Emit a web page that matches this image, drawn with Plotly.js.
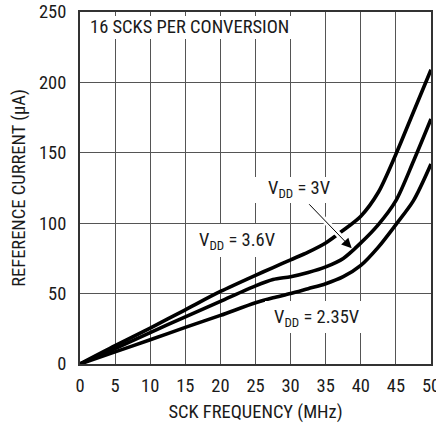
<!DOCTYPE html>
<html>
<head>
<meta charset="utf-8">
<script src="https://cdn.plot.ly/plotly-3.0.1.min.js"></script>
<style>
  html, body { margin: 0; padding: 0; background: #fff; }
  #chart { width: 436px; height: 423px; }
</style>
</head>
<body>
<div id="chart"></div>
<script>
// SCK frequency (MHz) sample points
const freqMHz = [0, 5, 10, 15, 20, 25, 27.5, 30, 32.5, 35, 37.5, 40, 42.5, 45, 47.5, 50];

// Reference current (uA) for each supply voltage
const iRef_3v6  = [0, 13, 25.5, 38.5, 51.5, 63, 68.5, 74, 79.5, 86, 95, 105, 122, 149, 179, 209];
const iRef_3v0  = [0, 11, 22.3, 33.5, 44.5, 55.5, 60, 62, 65, 69, 75, 86, 99, 116, 144, 174];
const iRef_2v35 = [0, 8.6, 17.2, 26, 34.5, 43.5, 47, 50, 53.5, 57, 62, 70, 83, 99, 116, 142];

const seriesNames = ['V<sub>DD</sub> = 3.6V', 'V<sub>DD</sub> = 3V', 'V<sub>DD</sub> = 2.35V'];
const xTicks = [0, 5, 10, 15, 20, 25, 30, 35, 40, 45, 50];
const yTicks = [0, 50, 100, 150, 200, 250];

const FONT = 'Roboto Condensed, Roboto, Liberation Sans, sans-serif';
const INK = '#1a1a1a';
const TXT = 18.5;   // label / title size
const TICK = 18.5;  // tick label size

// plot-area geometry (px) used to place the label boxes
const M = { l: 80, r: 5, t: 12, b: 59 };
const PW = 436 - M.l - M.r, PH = 423 - M.t - M.b;
const px = v => (v - M.l) / PW;
const py = v => 1 - (v - M.t) / PH;

function curve(y, name) {
  return {
    x: freqMHz, y: y, name: name, type: 'scatter', mode: 'lines',
    line: { color: '#000', width: 3.6, shape: 'spline', smoothing: 0.8 },
    hoverinfo: 'skip', showlegend: false
  };
}

const traces = [
  curve(iRef_3v6, seriesNames[0]),
  curve(iRef_3v0, seriesNames[1]),
  curve(iRef_2v35, seriesNames[2])
];

// white boxes behind the labels, breaking the grid
function box(x0, y0, x1, y1) {
  return { type: 'rect', xref: 'paper', yref: 'paper', layer: 'above',
    x0: px(x0), x1: px(x1), y0: py(y1), y1: py(y0),
    fillcolor: '#fff', line: { width: 0 } };
}

const shapes = [
  box(82, 16, 306, 39),
  box(250, 177, 342, 203),
  box(190, 224, 287, 257),
  box(265, 301, 372, 333),
  // white halo along the pointer
  { type: 'line', xref: 'paper', yref: 'paper', layer: 'above',
    x0: px(307.7), y0: py(202.7), x1: px(352), y1: py(248.5),
    line: { color: '#fff', width: 6 } }
];

function label(text, left, midY) {
  return { text: text, xref: 'paper', yref: 'paper', x: px(left), y: py(midY),
    xanchor: 'left', yanchor: 'middle', showarrow: false,
    font: { family: FONT, size: TXT, color: INK } };
}

const annotations = [
  label('16 SCKS PER CONVERSION', 88, 27),
  label(seriesNames[1], 266, 189),
  label(seriesNames[0], 197, 241),
  label(seriesNames[2], 272, 318),
  { text: ' ', xref: 'paper', yref: 'paper', x: px(351.7), y: py(248.3),
    ax: -44, ay: -45.6, showarrow: true, arrowhead: 2, arrowsize: 2,
    arrowwidth: 1, arrowcolor: '#000', standoff: 0,
    font: { family: FONT, size: 2 } }
];

const axisCommon = {
  showgrid: true, gridcolor: '#555', gridwidth: 1,
  showline: true, mirror: true, linecolor: '#333', linewidth: 2,
  zeroline: false, ticks: '',
  ticklabeloverflow: 'allow',
  tickfont: { family: FONT, size: TICK, color: INK },
  fixedrange: true
};

const layout = {
  width: 436, height: 423,
  margin: M,
  paper_bgcolor: '#fff', plot_bgcolor: '#fff',
  showlegend: false,
  xaxis: Object.assign({}, axisCommon, {
    range: [0, 50], tickvals: xTicks, ticktext: xTicks.map(String),
    ticklabelstandoff: 4,
    title: { text: 'SCK FREQUENCY (MHz)', font: { family: FONT, size: TXT, color: INK }, standoff: 12 }
  }),
  yaxis: Object.assign({}, axisCommon, {
    range: [0, 250], tickvals: yTicks, ticktext: yTicks.map(String),
    ticklabelstandoff: 8,
    title: { text: 'REFERENCE CURRENT (μA)', font: { family: FONT, size: TXT, color: INK }, standoff: 8 }
  }),
  shapes: shapes,
  annotations: annotations
};

Plotly.newPlot('chart', traces, layout, { staticPlot: true, displayModeBar: false });
</script>
</body>
</html>
